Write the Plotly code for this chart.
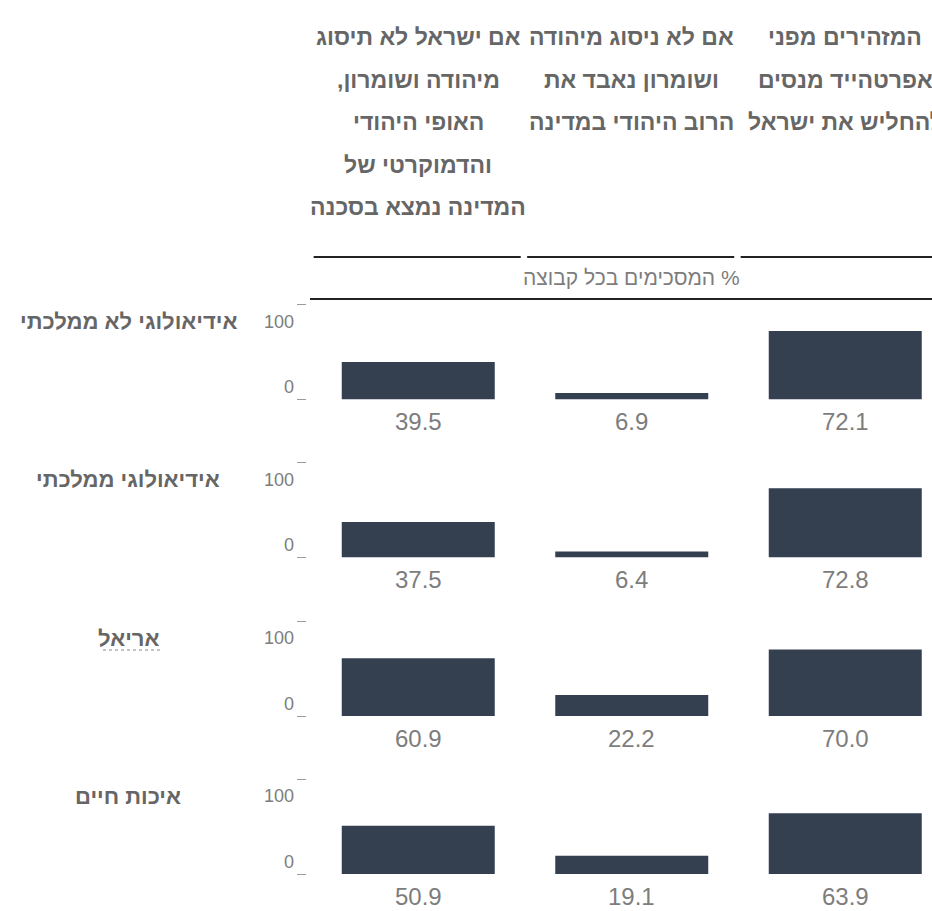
import plotly.graph_objects as go

# ------------------------------------------------------------------
# Data (columns listed left to right as they appear on screen)
# ------------------------------------------------------------------
ROW_LABELS = ["אידיאולוגי לא ממלכתי", "אידיאולוגי ממלכתי", "אריאל", "איכות חיים"]

COLUMN_KEYS = ["threat", "majority", "apartheid"]
COLUMN_HEADERS = [
    ["אם ישראל לא תיסוג", "מיהודה ושומרון,\u200f", "האופי היהודי", "והדמוקרטי של", "המדינה נמצא בסכנה"],
    ["אם לא ניסוג מיהודה", "ושומרון נאבד את", "הרוב היהודי במדינה"],
    ["המזהירים מפני", "אפרטהייד מנסים", "להחליש את ישראל"],
]

THREAT_VALUES = [39.5, 37.5, 60.9, 50.9]
MAJORITY_VALUES = [6.9, 6.4, 22.2, 19.1]
APARTHEID_VALUES = [72.1, 72.8, 70.0, 63.9]

Y_TICKS = [0, 100]
Y_TICK_TEXT = ["0", "100"]
SUBTITLE = "\u200f% המסכימים בכל קבוצה"

# ------------------------------------------------------------------
# Layout constants (pixels)
# ------------------------------------------------------------------
W, H = 932, 911
BASELINES = [399.5, 557.5, 716.0, 874.0]
BAR_SPAN = 95          # pixels for 0..100
X_LEFT = 311.5         # left edge of the column area
COL_PITCH = 213.5
BAR_COLOR = "#343f50"
TEXT_GREY = "#7d7d7d"
LABEL_GREY = "#666666"
FONT = "Liberation Sans Narrow, Liberation Sans, Arial, sans-serif"


def px_x(v):
    return v / W


def px_y(v):
    return 1 - v / H


fig = go.Figure()
series = list(zip(THREAT_VALUES, MAJORITY_VALUES, APARTHEID_VALUES))
x_max = -0.5 + (W - X_LEFT) / COL_PITCH
annotations = []
shapes = []

for r, label in enumerate(ROW_LABELS):
    sfx = "" if r == 0 else str(r + 1)
    xa, ya = "x" + sfx, "y" + sfx
    values = list(series[r])

    fig.add_trace(go.Bar(
        x=COLUMN_KEYS, y=values, xaxis=xa, yaxis=ya,
        marker=dict(color=BAR_COLOR, line=dict(width=0)),
        width=153 / COL_PITCH, hoverinfo="skip",
    ))

    b = BASELINES[r]
    fig.layout["xaxis" + sfx] = dict(
        domain=[px_x(X_LEFT), 1], range=[-0.5, x_max], visible=False,
        anchor=ya, type="category", categoryorder="array", categoryarray=COLUMN_KEYS,
    )
    fig.layout["yaxis" + sfx] = dict(
        domain=[px_y(b), px_y(b - BAR_SPAN)], range=[0, 100],
        anchor="free", position=px_x(306), tickvals=Y_TICKS, ticks="outside",
        ticklen=9, tickwidth=1, tickcolor="#9a9a9a", showticklabels=False,
        showgrid=False, zeroline=False, showline=False,
    )

    # values under the bars
    for key, v in zip(COLUMN_KEYS, values):
        annotations.append(dict(
            x=key, y=0, xref=xa, yref=ya, yshift=-22, showarrow=False,
            text=f"{v:.1f}", yanchor="middle", xanchor="center", borderpad=0,
            font=dict(size=24, color=TEXT_GREY, family=FONT),
        ))

    # y tick labels
    shifts = {0: 12.5, 100: -17}
    for tv, tt in zip(Y_TICKS, Y_TICK_TEXT):
        annotations.append(dict(
            x=px_x(296), y=tv, xref="paper", yref=ya, yshift=shifts[tv],
            xanchor="right", yanchor="middle", showarrow=False, text=tt,
            font=dict(size=18, color=TEXT_GREY, family=FONT),
        ))

    # row label
    annotations.append(dict(
        x=px_x(128), y=100, xref="paper", yref=ya, yshift=-17,
        xanchor="center", yanchor="middle", showarrow=False,
        text="<b>" + label + "</b>",
        font=dict(size=22, color=LABEL_GREY, family=FONT),
    ))

# dotted underline under the linked row label
shapes.append(dict(
    type="line", xref="paper", yref="paper",
    x0=px_x(103), x1=px_x(162), y0=px_y(650), y1=px_y(650),
    line=dict(color="#888888", width=1, dash="dot"),
))

# column headers
for key, lines in zip(COLUMN_KEYS, COLUMN_HEADERS):
    for j, line in enumerate(lines):
        annotations.append(dict(
            x=key, xref="x", y=px_y(37 + 42.5 * j), yref="paper",
            xanchor="center", yanchor="middle", showarrow=False,
            text="<b>" + line + "</b>",
            font=dict(size=23, color=LABEL_GREY, family=FONT),
        ))

# rules above / below the subtitle
for i in range(len(COLUMN_KEYS)):
    shapes.append(dict(
        type="line", xref="x", yref="paper",
        x0=i - 0.5 + 0.01, x1=i + 0.5 - 0.02, y0=px_y(257), y1=px_y(257),
        line=dict(color="#222222", width=2),
    ))
shapes.append(dict(
    type="line", xref="paper", yref="paper",
    x0=px_x(310), x1=1, y0=px_y(299), y1=px_y(299),
    line=dict(color="#222222", width=2),
))

annotations.append(dict(
    x=COLUMN_KEYS[1], xref="x", y=px_y(277), yref="paper",
    xanchor="center", yanchor="middle", showarrow=False, text=SUBTITLE,
    font=dict(size=21, color=TEXT_GREY, family=FONT),
))

fig.update_layout(
    width=W, height=H,
    margin=dict(l=0, r=0, t=0, b=0),
    paper_bgcolor="white", plot_bgcolor="white",
    showlegend=False,
    font=dict(family=FONT),
    annotations=annotations,
    shapes=shapes,
)

# drop the browser's default body margin so the figure sits at the page corner
fig.write_html(
    "out.html",
    config={"displayModeBar": False},
    post_script="document.body.style.margin='0';",
)
